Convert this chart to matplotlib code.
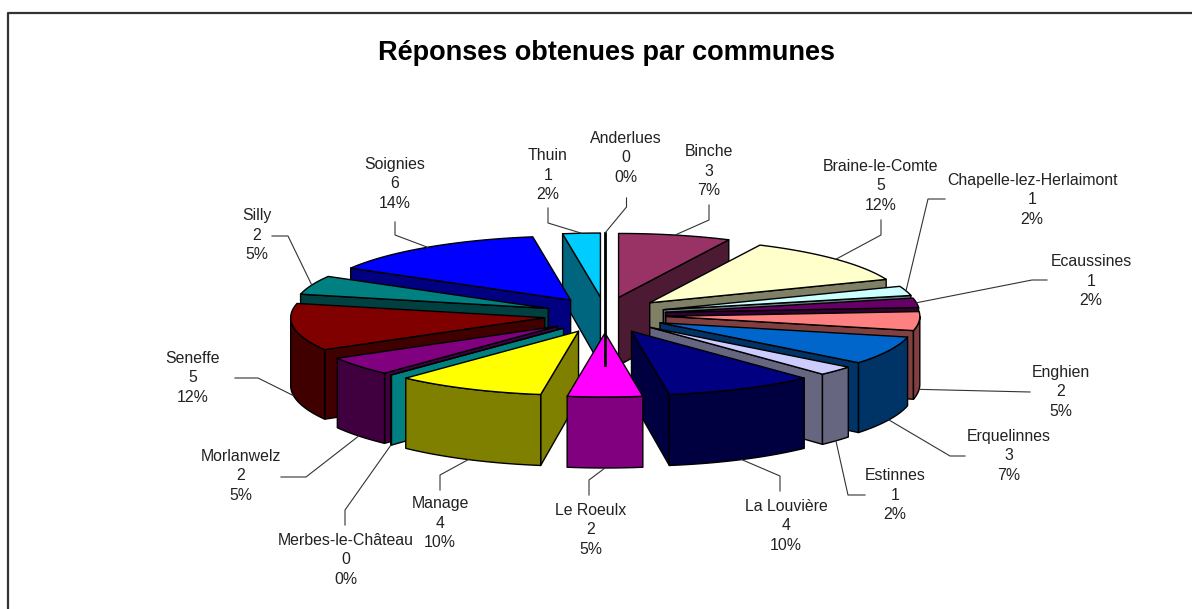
import numpy as np
import matplotlib
matplotlib.use("Agg")
import matplotlib.pyplot as plt

communes = ["Anderlues", "Binche", "Braine-le-Comte", "Chapelle-lez-Herlaimont", "Ecaussines",
            "Enghien", "Erquelinnes", "Estinnes", "La Louvière", "Le Roeulx", "Manage",
            "Merbes-le-Château", "Morlanwelz", "Seneffe", "Silly", "Soignies", "Thuin"]
reponses = [0, 3, 5, 1, 1, 2, 3, 1, 4, 2, 4, 0, 2, 5, 2, 6, 1]
couleurs = ["#9999FF", "#993366", "#FFFFCC", "#CCFFFF", "#660066", "#FF8080", "#0066CC", "#CCCCFF",
            "#000080", "#FF00FF", "#FFFF00", "#00FFFF", "#800080", "#800000", "#008080", "#0000FF",
            "#00CCFF"]

# ===== geometrie du camembert (pixels) =====
CX, CY = 605, 315
RX, RY = 254, 64
EXPL_X, EXPL_Y = 61, 18
HAUT = 68
PERSP = 3  # un peu plus epais devant que derriere

# position du texte (centre) puis trait de rappel: coude et bout
labels_pos = {
    "Anderlues": (626, 158, [(626.5, 207), (626.5, 198)]),
    "Binche": (709, 171, [(709, 220), (709, 205)]),
    "Braine-le-Comte": (881, 186, [(881, 235), (881, 220)]),
    "Chapelle-lez-Herlaimont": (1032, 200, [(928, 199), (945, 199)]),
    "Ecaussines": (1091, 281, [(1032, 280), (1047, 280)]),
    "Enghien": (1061, 392, [(1030, 392)]),
    "Erquelinnes": (1009, 456, [(950, 456), (965, 456)]),
    "Estinnes": (895, 495, [(848, 495), (865, 495)]),
    "La Louvière": (786, 526, [(780, 476), (780, 491)]),
    "Le Roeulx": (591, 530, [(589, 480), (589, 495)]),
    "Manage": (440, 523, [(440, 475), (440, 490)]),
    "Merbes-le-Château": (346, 560, [(345, 510), (345, 525)]),
    "Morlanwelz": (241, 476, [(306, 477), (281, 477)]),
    "Seneffe": (193, 378, [(258, 378), (235, 378)]),
    "Silly": (257, 235, [(288, 236), (272, 236)]),
    "Soignies": (395, 184, [(395, 235), (395, 222)]),
    "Thuin": (548, 175, [(548, 223), (548, 208)]),
}

plt.rcParams["font.family"] = ["Liberation Sans", "DejaVu Sans"]
fig = plt.figure(figsize=(11.92, 6.09), dpi=100)
ax = fig.add_axes([0, 0, 1, 1])
ax.set_xlim(0, 1192)
ax.set_ylim(609, 0)
ax.axis("off")

# cadre (coupe a droite et en bas)
ax.plot([7.5, 7.5, 1192], [609, 13, 13], color="#333333", lw=1.6)
ax.text(607, 53, "Réponses obtenues par communes", ha="center", va="center",
        fontsize=19.5, fontweight="bold")


def sombre(hex_col):
    r, g, b, _ = matplotlib.colors.to_rgba(hex_col)
    return (r * 0.5, g * 0.5, b * 0.5)


def epaisseur(t):
    return HAUT - PERSP * np.cos(t)


total = sum(reponses)
bornes = np.cumsum([0] + reponses) / total * 2 * np.pi
parts = []
for i, nom in enumerate(communes):
    parts.append((nom, bornes[i], bornes[i + 1], couleurs[i], reponses[i]))
# on dessine du fond vers l'avant
parts.sort(key=lambda p: -np.cos((p[1] + p[2]) / 2))

LW = 1.0
for nom, t1, t2, col, val in parts:
    mid = (t1 + t2) / 2
    px = CX + EXPL_X * np.sin(mid)
    py = CY - EXPL_Y * np.cos(mid)
    arc = np.linspace(t1, t2, 60)
    ax_x = px + RX * np.sin(arc)
    ax_y = py - RY * np.cos(arc)
    cote = sombre(col)

    # faces radiales visibles
    for t, n in ((t1, t1 - np.pi / 2), (t2, t2 + np.pi / 2)):
        if np.cos(n) < -1e-6:
            ox, oy = px + RX * np.sin(t), py - RY * np.cos(t)
            ax.fill([px, ox, ox, px], [py, oy, oy + epaisseur(t), py + HAUT], facecolor=cote,
                    edgecolor="black", lw=LW, joinstyle="round")
    # paroi exterieure (partie avant seulement)
    avant = np.cos(arc) < 0
    if avant.sum() > 1:
        wx, wy = ax_x[avant], ax_y[avant]
        ax.fill(np.r_[wx, wx[::-1]], np.r_[wy, (wy + epaisseur(arc[avant]))[::-1]], facecolor=cote,
                edgecolor="black", lw=LW, joinstyle="round")
    # dessus
    ax.fill(np.r_[px, ax_x], np.r_[py, ax_y], facecolor=col, edgecolor="black", lw=LW,
            joinstyle="round")
    if val == 0 and np.isclose(np.sin(t1), 0):
        # tranche nulle vue par la tranche
        ax.plot([px, px], [py - RY, py + HAUT], color="black", lw=2)

# etiquettes et traits de rappel
for i, nom in enumerate(communes):
    tx, ty, trait = labels_pos[nom]
    mid = (bornes[i] + bornes[i + 1]) / 2
    x0 = CX + (EXPL_X + RX) * np.sin(mid)
    y0 = CY - (EXPL_Y + RY) * np.cos(mid)
    if np.cos(mid) < 0:
        y0 += epaisseur(mid)
    xs = [x0] + [p[0] for p in trait]
    ys = [y0] + [p[1] for p in trait]
    ax.plot(xs, ys, color="#333333", lw=0.8, zorder=5)
    pct = round(reponses[i] / total * 100)
    ax.text(tx, ty, f"{nom}\n{reponses[i]}\n{pct}%", ha="center", va="center", fontsize=11.45,
            linespacing=1.35, color="#222222", zorder=6)

fig.savefig("out.png", dpi=100)
